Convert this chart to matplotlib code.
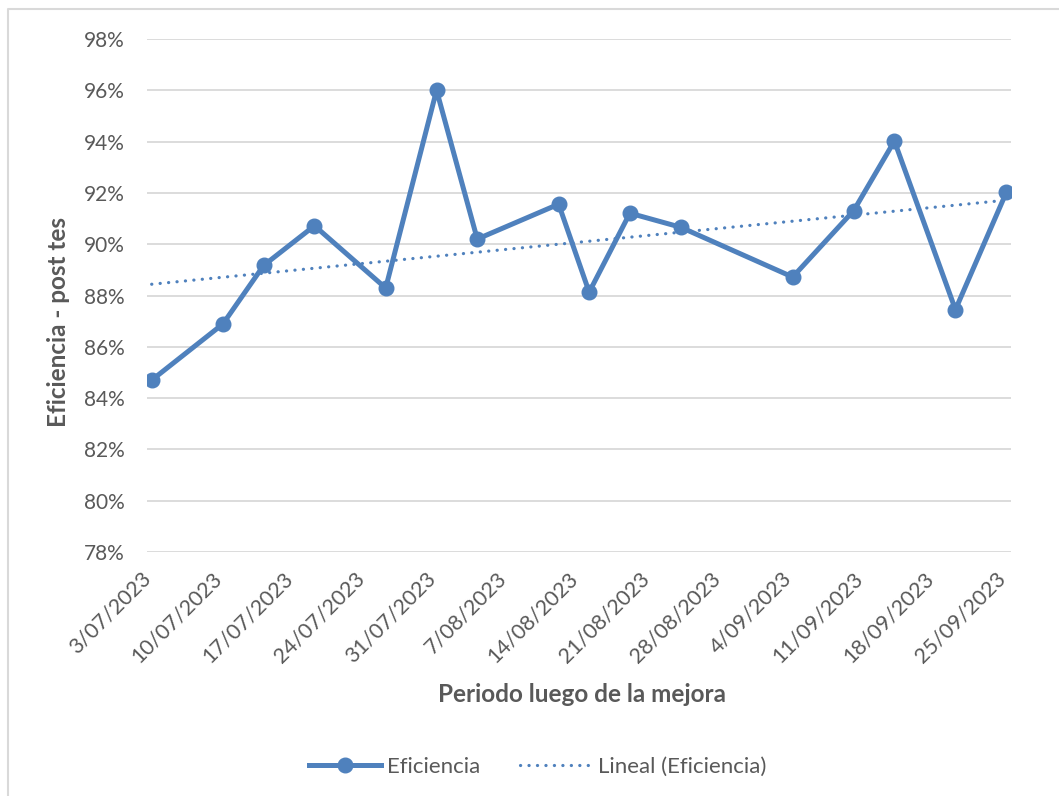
import matplotlib.pyplot as plt
import matplotlib.dates as mdates
import numpy as np
from datetime import date
from matplotlib.lines import Line2D

plt.rcParams['font.family'] = ['Lato', 'DejaVu Sans']

# weekly efficiency readings after the improvement
fechas = [date(2023, 7, 3), date(2023, 7, 10), date(2023, 7, 14), date(2023, 7, 19),
          date(2023, 7, 26), date(2023, 7, 31), date(2023, 8, 4), date(2023, 8, 12),
          date(2023, 8, 15), date(2023, 8, 19), date(2023, 8, 24), date(2023, 9, 4),
          date(2023, 9, 10), date(2023, 9, 14), date(2023, 9, 20), date(2023, 9, 25)]
eficiencia = [84.70, 86.89, 89.17, 90.72, 88.29, 96.00, 90.20, 91.56,
              88.13, 91.21, 90.66, 88.72, 91.31, 94.02, 87.45, 92.02]
yticks = [78, 80, 82, 84, 86, 88, 90, 92, 94, 96, 98]

azul = '#4F81BD'
gris = '#595959'

fig = plt.figure(figsize=(10.59, 7.96), dpi=100)
ax = fig.add_axes([147 / 1059, 1 - 552 / 796, 864 / 1059, 513 / 796])

x = mdates.date2num(fechas)
ax.plot(x, eficiencia, color=azul, lw=3.6, marker='o', ms=10.5,
        solid_joinstyle='round', zorder=3)

# linear trend line
m, b = np.polyfit(x, eficiencia, 1)
xt = np.array([x[0], x[-1]])
ax.plot(xt, m * xt + b, color=azul, lw=2.3, linestyle=(0, (0.05, 2.6)),
        dash_capstyle='round', zorder=2)

ax.set_ylim(78, 98)
ax.set_xlim(x[0] - 0.46, x[-1] + 0.46)
ax.set_yticks(yticks)
ax.set_yticklabels([f'{v}%' for v in yticks])
ax.yaxis.grid(True, color='#D9D9D9', lw=1.3)
ax.set_axisbelow(True)

ticks = np.arange(x[0], x[-1] + 1, 7)
ax.set_xticks(ticks)
ax.set_xticklabels([f'{d.day}/{d.month:02d}/{d.year}' for d in mdates.num2date(ticks)],
                   rotation=45, ha='right', va='baseline', rotation_mode='anchor')
ax.tick_params(axis='x', length=0, labelsize=15.5, labelcolor=gris, pad=20)
ax.tick_params(axis='y', length=0, labelsize=15, labelcolor=gris, pad=16)
for s in ax.spines.values():
    s.set_visible(False)

fig.text(58 / 1059, 1 - 322 / 796, 'Eficiencia - post tes', fontsize=17.5, rotation=90,
         fontweight='bold', color=gris, ha='center', va='center')
fig.text(582 / 1059, 1 - 695 / 796, 'Periodo luego de la mejora', fontsize=17.5,
         fontweight='bold', color=gris, ha='center', va='center')

handles = [Line2D([], [], color=azul, lw=3.6, marker='o', ms=10.5),
           Line2D([], [], color=azul, lw=2.3, linestyle=(0, (0.05, 2.6)), dash_capstyle='round')]
fig.legend(handles, ['Eficiencia', 'Lineal (Eficiencia)'], loc='center',
           bbox_to_anchor=(538 / 1059, 1 - 767 / 796), ncol=2, frameon=False,
           fontsize=16, labelcolor=gris, handlelength=3.2, columnspacing=1.8,
           handletextpad=0.3)

# chart area border (top and left edges)
fig.add_artist(Line2D([8 / 1059, 8 / 1059, 1], [0, 1 - 9 / 796, 1 - 9 / 796],
                      transform=fig.transFigure, color='#D9D9D9', lw=1.5))

fig.savefig('out.png', dpi=100)
